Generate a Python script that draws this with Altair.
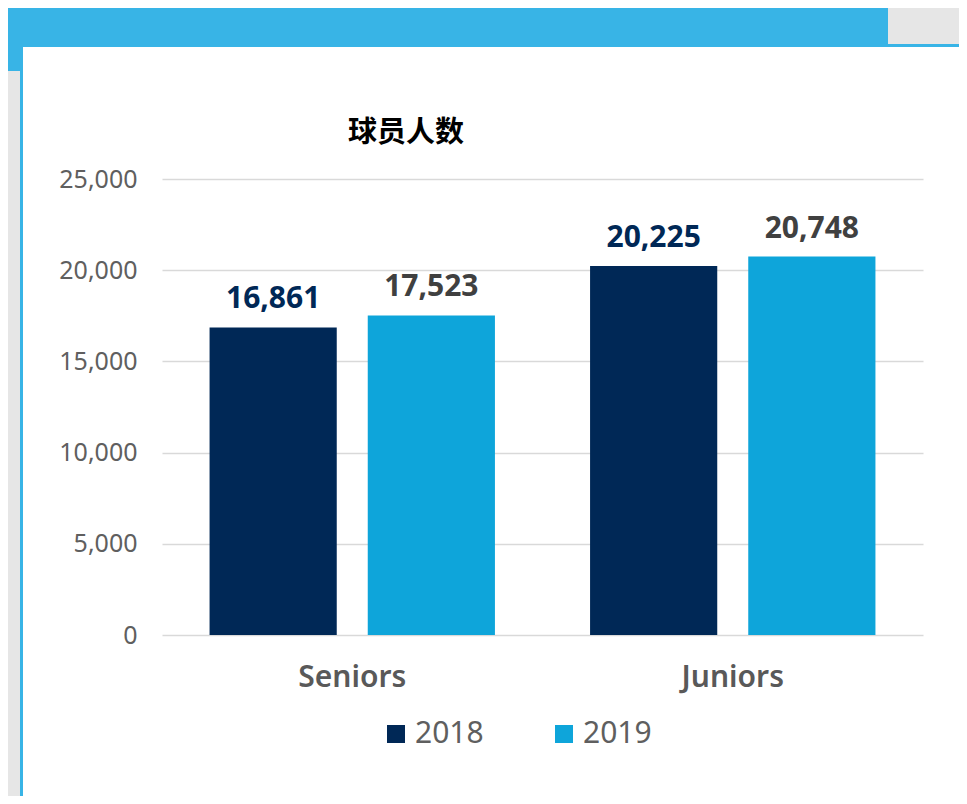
import altair as alt
import pandas as pd

categories = ["Seniors", "Juniors"]
years = ["2018", "2019"]
values_2018 = [16861, 20225]
values_2019 = [17523, 20748]
title_text = "球员人数"

rows = []
for i, c in enumerate(categories):
    rows.append({"category": c, "year": years[0], "value": values_2018[i]})
    rows.append({"category": c, "year": years[1], "value": values_2019[i]})
df = pd.DataFrame(rows)

FONT = "Noto Sans"
NAVY = "#002856"
SKY = "#0ea5da"
BAND = "#38b4e6"
GRAY = "#e6e6e6"

deco = pd.DataFrame({"a": [0]})


def deco_rect(x, x2, y, y2, color):
    return alt.Chart(deco).mark_rect(color=color).encode(
        x=alt.value(x), x2=alt.value(x2), y=alt.value(y), y2=alt.value(y2)
    )


decorations = [
    deco_rect(-154, 726, -171, -135, BAND),
    deco_rect(-154, -142, -135, -108, BAND),
    deco_rect(726, 800, -171, -135, GRAY),
    deco_rect(-154, -142, -108, 620, GRAY),
    deco_rect(-142, 800, -135, -132, BAND),
    deco_rect(-142, -139, -135, 620, BAND),
]

x_enc = alt.X(
    "category:N",
    sort=categories,
    scale=alt.Scale(paddingInner=0.25, paddingOuter=0.125),
    axis=alt.Axis(
        title=None, labelAngle=0, ticks=False, domain=False,
        labelFontSize=30, labelFontWeight=600, labelColor="#595959",
        labelFont=FONT, labelPadding=27,
    ),
)
xoff = alt.XOffset("year:N", sort=years, scale=alt.Scale(paddingInner=0.196, paddingOuter=0))
yscale = alt.Scale(domain=[0, 25000], nice=False)
y_enc = alt.Y(
    "value:Q",
    scale=yscale,
    axis=alt.Axis(
        title=None, values=[0, 5000, 10000, 15000, 20000, 25000],
        labelExpr="format(datum.value, ',')",
        ticks=False, domain=False, labelFontSize=25, labelColor="#5f5f5f",
        labelFont=FONT, labelPadding=25, gridColor="#d9d9d9", gridWidth=1.5,
    ),
)

bars = alt.Chart(df).mark_bar().encode(
    x=x_enc,
    xOffset=xoff,
    y=y_enc,
    color=alt.Color(
        "year:N",
        scale=alt.Scale(domain=years, range=[NAVY, SKY]),
        legend=alt.Legend(
            title=None, orient="none", legendX=219, legendY=540,
            direction="horizontal", symbolType="square", symbolSize=324,
            symbolStrokeWidth=0, labelFontSize=30, labelColor="#5f5f5f",
            labelFont=FONT, columnPadding=65, labelOffset=4, padding=0,
        ),
    ),
)

labels = alt.Chart(df).mark_text(
    baseline="alphabetic", dy=-19, fontSize=30, fontWeight="bold", font=FONT
).encode(
    x=x_enc,
    xOffset=xoff,
    y=y_enc,
    text=alt.Text("value:Q", format=","),
    color=alt.condition(alt.datum.year == "2018", alt.value(NAVY), alt.value("#404040")),
)

title = alt.Chart(pd.DataFrame({"t": [title_text]})).mark_text(
    align="left", baseline="alphabetic", fontSize=29, fontWeight="bold",
    font="Noto Sans CJK SC", color="#000000",
).encode(text="t:N", x=alt.value(186), y=alt.value(-37))

chart = alt.layer(*decorations, bars, labels, title).properties(
    width=761,
    height=456,
    autosize=alt.AutoSizeParams(type="none"),
    padding={"left": 154, "top": 171, "right": 36, "bottom": 161},
    background="white",
).configure_view(stroke=None)

chart.save("out.html", embed_options={"renderer": "svg", "actions": False})
